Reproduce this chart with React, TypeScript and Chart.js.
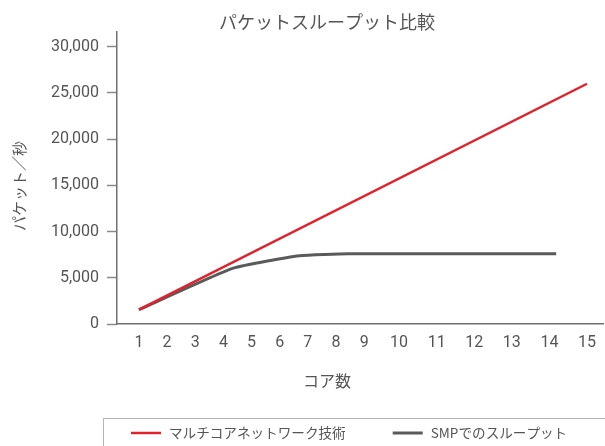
import React, { useEffect, useRef } from "react";
import { Chart, registerables, LinearScale } from "chart.js";

Chart.register(...registerables);

// ---- data ----
const chartTitle = "パケットスループット比較";
const xTitle = "コア数";
const yTitle = "パケット／秒";
const coreLabels = [1, 2, 3, 4, 5, 6, 7, 8, 9, 10, 11, 12, 13, 14, 15];
const yTickValues = [0, 5000, 10000, 15000, 20000, 25000, 30000];

const multiCoreName = "マルチコアネットワーク技術";
const multiCoreCores = [1, 15];
const multiCoreThroughput = [1550, 26000];

const smpName = "SMPでのスループット";
const smpCores = [1, 4.35, 6.7, 8.47, 14.18];
const smpThroughput = [1550, 6050, 7390, 7600, 7600];

// axis spacing of the reference: labels 10..15 sit wider apart than 1..9
function warp(v: number): number {
  if (v <= 9) return v;
  if (v <= 10) return 9 + (v - 9) * 1.24;
  return 10.24 + (v - 10) * 1.335;
}

class WarpScale extends LinearScale {
  static id = "warp";
  static defaults = LinearScale.defaults;
  getPixelForValue(value: number) {
    const a = warp(this.min);
    const b = warp(this.max);
    return this.getPixelForDecimal((warp(value) - a) / (b - a));
  }
  getValueForPixel(pixel: number) {
    const a = warp(this.min);
    const b = warp(this.max);
    const w = a + this.getDecimalForPixel(pixel) * (b - a);
    if (w <= 9) return w;
    if (w <= 10.24) return 9 + (w - 9) / 1.24;
    return 10 + (w - 10.24) / 1.335;
  }
}
Chart.register(WarpScale);

const TEXT = "#555555";
const CJK = '"Noto Sans CJK JP", "Noto Sans", sans-serif';
const NUM = 'Roboto, "Noto Sans CJK JP", sans-serif';

const textPlugin = {
  id: "customText",
  afterDraw(chart: any) {
    const ctx = chart.ctx;
    ctx.save();
    ctx.fillStyle = TEXT;
    ctx.textAlign = "center";
    ctx.textBaseline = "middle";
    ctx.font = `18px ${CJK}`;
    ctx.fillText(chartTitle, 327, 22);
    ctx.font = `16px ${CJK}`;
    ctx.fillText(xTitle, 327, 381);
    ctx.save();
    ctx.translate(19, 186);
    ctx.rotate(-Math.PI / 2);
    ctx.font = `15px ${CJK}`;
    ctx.fillText(yTitle, 0, 0);
    ctx.restore();

    // legend box
    ctx.strokeStyle = "#b4b4b4";
    ctx.lineWidth = 1;
    ctx.strokeRect(103.5, 418.5, 700, 100);
    let x = 131;
    const y = 433;
    ctx.textAlign = "left";
    ctx.font = `13.6px ${CJK}`;
    chart.data.datasets.forEach((ds: any) => {
      ctx.strokeStyle = ds.borderColor;
      ctx.lineWidth = ds.borderWidth;
      ctx.beginPath();
      ctx.moveTo(x, y);
      ctx.lineTo(x + 30, y);
      ctx.stroke();
      ctx.fillStyle = TEXT;
      ctx.fillText(ds.label, x + 38, y);
      x += 38 + ctx.measureText(ds.label).width + 47;
    });
    ctx.restore();
  },
};

export default function App() {
  const ref = useRef<HTMLCanvasElement | null>(null);
  useEffect(() => {
    if (!ref.current) return;
    const chart = new Chart(ref.current, {
      type: "line",
      data: {
        datasets: [
          {
            label: multiCoreName,
            data: multiCoreCores.map((c, i) => ({ x: c, y: multiCoreThroughput[i] })),
            borderColor: "#e2212b",
            borderWidth: 2.5,
            pointRadius: 0,
            fill: false,
          },
          {
            label: smpName,
            data: smpCores.map((c, i) => ({ x: c, y: smpThroughput[i] })),
            borderColor: "#5a5a5a",
            borderWidth: 3,
            pointRadius: 0,
            tension: 0.15,
            fill: false,
          },
        ],
      },
      options: {
        animation: false,
        responsive: false,
        layout: { padding: { top: 32, left: 0, right: 0, bottom: 0 } },
        plugins: {
          legend: { display: false },
          title: { display: false },
          tooltip: { enabled: false },
        },
        scales: {
          x: {
            type: "warp" as any,
            min: 0.221,
            max: 15.43,
            afterBuildTicks: (scale: any) => {
              scale.ticks = coreLabels.map((v) => ({ value: v }));
            },
            afterFit: (scale: any) => {
              scale.height = 122;
            },
            grid: { display: false, drawTicks: false },
            border: { display: true, color: "#707070", width: 1.5 },
            ticks: {
              autoSkip: false,
              maxRotation: 0,
              padding: 9,
              color: TEXT,
              font: { family: NUM, size: 16 },
              callback: (v: any) => String(v),
            },
          },
          y: {
            type: "linear",
            min: 0,
            max: 31600,
            afterBuildTicks: (scale: any) => {
              scale.ticks = yTickValues.map((v) => ({ value: v }));
            },
            afterFit: (scale: any) => {
              scale.width = 117;
            },
            grid: {
              display: true,
              drawOnChartArea: false,
              drawTicks: true,
              tickLength: 10,
              color: "#8a8a8a",
              tickWidth: 1.5,
            },
            border: { display: true, color: "#707070", width: 1.5 },
            ticks: {
              padding: 8,
              color: TEXT,
              font: { family: NUM, size: 16 },
              callback: (v: any) => Number(v).toLocaleString("en-US"),
            },
          },
        },
      },
      plugins: [textPlugin],
    });
    return () => chart.destroy();
  }, []);
  return (
    <div style={{ position: "absolute", left: 0, top: 0, width: 605, height: 446 }}>
      <canvas ref={ref} width={605} height={446} style={{ display: "block" }} />
    </div>
  );
}
